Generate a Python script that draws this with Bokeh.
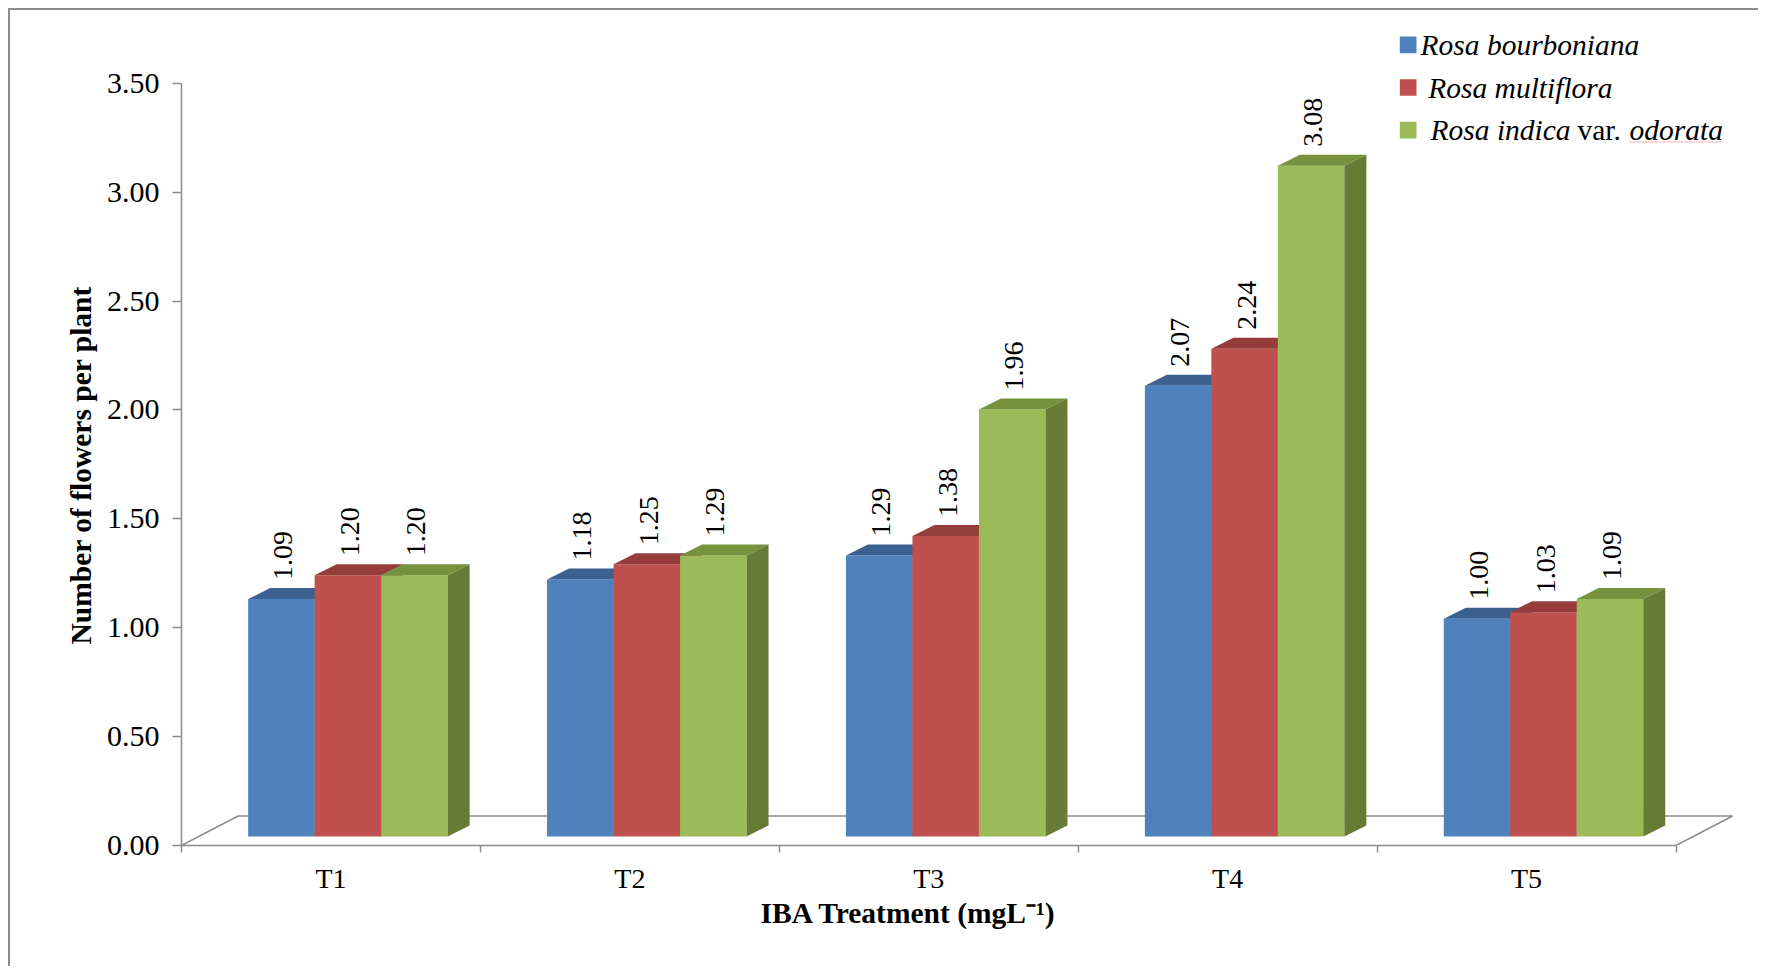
import math
from bokeh.plotting import figure
from bokeh.models import Range1d, FixedTicker, ColumnDataSource, Title
from bokeh.core.properties import value
from bokeh.embed import file_html
from bokeh.resources import INLINE

# ---------------- data ----------------
categories = ["T1", "T2", "T3", "T4", "T5"]
series_names = ["Rosa bourboniana", "Rosa multiflora", "Rosa indica var. odorata"]
rosa_bourboniana = [1.09, 1.18, 1.29, 2.07, 1.00]
rosa_multiflora = [1.20, 1.25, 1.38, 2.24, 1.03]
rosa_indica_odorata = [1.20, 1.29, 1.96, 3.08, 1.09]
y_ticks = [0.0, 0.5, 1.0, 1.5, 2.0, 2.5, 3.0, 3.5]
y_tick_labels = ["0.00", "0.50", "1.00", "1.50", "2.00", "2.50", "3.00", "3.50"]
x_title = "IBA Treatment (mgL\u207b\u00b9)"
y_title = "Number of flowers per plant"

# ---------------- style / geometry ----------------
FONT = "Liberation Serif"
front_colors = ["#4F81BD", "#C0504D", "#9BBB59"]
top_colors = ["#3C6190", "#943D3B", "#77923F"]
side_colors = ["#375B86", "#8A3836", "#657B36"]
GRAY = "#8c8c8c"

PX_X = 298.9          # pixels per category unit
PX_Y = 217.8          # pixels per value unit
FIG_W, FIG_H = 1750, 958
MB_LEFT, MB_BOTTOM = 171, 123
FRAME_LEFT_PAGE = 10 + MB_LEFT                 # page x of x=0
FRAME_BOTTOM_PAGE = 10 + FIG_H - MB_BOTTOM     # page y of y=0

BAR_W = 66.5 / PX_X
GROUP_OFF = 0.223
BASE = 9 / PX_Y
DX = 22 / PX_X
DY = 11 / PX_Y
FLOOR_DX = 56.6 / PX_X
FLOOR_DY = 29.5 / PX_Y


def px_x(px):
    return (px - FRAME_LEFT_PAGE) / PX_X


def px_y(py):
    return (FRAME_BOTTOM_PAGE - py) / PX_Y


p = figure(width=FIG_W, height=FIG_H, output_backend="svg", toolbar_location=None,
           x_range=Range1d(0, (FIG_W - MB_LEFT) / PX_X),
           y_range=Range1d(0, (FIG_H - MB_BOTTOM) / PX_Y),
           min_border_left=MB_LEFT, min_border_right=0, min_border_top=0,
           min_border_bottom=MB_BOTTOM)
p.styles = {"margin-left": "8px", "margin-top": "8px",
            "border-left": "2px solid #8c8c8c", "border-top": "2px solid #8c8c8c"}
p.outline_line_color = None
p.xgrid.visible = False
p.ygrid.visible = False
p.background_fill_color = "white"
p.border_fill_color = "white"

n = len(categories)

# floor (3-D base)
p.line([0, FLOOR_DX, n + FLOOR_DX, n], [0, FLOOR_DY, FLOOR_DY, 0],
       line_color=GRAY, line_width=1.5)

# bars
series = [rosa_bourboniana, rosa_multiflora, rosa_indica_odorata]
for j, vals in enumerate(series):
    lefts = [i + GROUP_OFF + j * BAR_W for i in range(n)]
    rights = [l + BAR_W for l in lefts]
    tops = [BASE + v for v in vals]
    bottoms = [BASE] * n
    p.quad(left=lefts, right=rights, bottom=bottoms, top=tops,
           fill_color=front_colors[j], line_color=None)
    txs = [[l, l + DX, r + DX, r] for l, r in zip(lefts, rights)]
    tys = [[t, t + DY, t + DY, t] for t in tops]
    p.patches(txs, tys, fill_color=top_colors[j], line_color=None)
    sxs = [[r, r + DX, r + DX, r] for r in rights]
    sys_ = [[b, b + DY, t + DY, t] for b, t in zip(bottoms, tops)]
    p.patches(sxs, sys_, fill_color=side_colors[j], line_color=None)
    src = ColumnDataSource(dict(
        x=[l + BAR_W / 2 + 2 / PX_X for l in lefts],
        y=[t + DY + 8 / PX_Y for t in tops],
        t=["%.2f" % v for v in vals]))
    p.text(x="x", y="y", text="t", source=src, angle=math.pi / 2,
           text_align="left", text_baseline="middle",
           text_font=value(FONT), text_font_size="28px", text_color="black")

# axes
xa = p.xaxis[0]
xa.ticker = FixedTicker(ticks=[i + 0.5 for i in range(n)], minor_ticks=list(range(n + 1)))
xa.major_label_overrides = {i + 0.5: c for i, c in enumerate(categories)}
xa.bounds = (0, n)
xa.major_tick_out = 0
xa.major_tick_in = 0
xa.minor_tick_out = 7
xa.minor_tick_in = 0
xa.axis_line_color = GRAY
xa.axis_line_width = 1.5
xa.minor_tick_line_color = GRAY
xa.minor_tick_line_width = 1.5
xa.major_label_text_font = FONT
xa.major_label_text_font_size = "28px"
xa.major_label_text_color = "black"
xa.major_label_standoff = 10

ya = p.yaxis[0]
ya.ticker = FixedTicker(ticks=y_ticks)
ya.major_label_overrides = {t: s for t, s in zip(y_ticks, y_tick_labels)}
ya.bounds = (0, 3.5)
ya.major_tick_out = 9
ya.major_tick_in = 0
ya.minor_tick_out = 0
ya.minor_tick_in = 0
ya.axis_line_color = GRAY
ya.axis_line_width = 1.5
ya.major_tick_line_color = GRAY
ya.major_tick_line_width = 1.5
ya.major_label_text_font = FONT
ya.major_label_text_font_size = "30px"
ya.major_label_text_color = "black"
ya.major_label_standoff = 13

# axis titles as side titles (so they can be placed along the axis extent)
p.add_layout(Title(text=x_title, align="left", offset=760 - FRAME_LEFT_PAGE,
                   standoff=-3, text_font=FONT, text_font_size="29.5px",
                   text_font_style="bold", text_color="black"), "below")
p.add_layout(Title(text=y_title, align="left", offset=201,
                   standoff=14, text_font=FONT, text_font_size="29.5px",
                   text_font_style="bold", text_color="black"), "left")

# legend (manual, to allow mixed italic / roman text)
leg_sq_left, leg_sq_right = 1399.3, 1416.0
leg_centers = [44.3, 87.0, 129.7]
leg_half = 8.35
p.quad(left=[px_x(leg_sq_left)] * 3, right=[px_x(leg_sq_right)] * 3,
       bottom=[px_y(c + leg_half) for c in leg_centers],
       top=[px_y(c - leg_half) for c in leg_centers],
       fill_color=front_colors, line_color=None)
leg_parts = [
    (1420.0, leg_centers[0], "Rosa bourboniana", "italic"),
    (1427.7, leg_centers[1], "Rosa multiflora", "italic"),
    (1430.0, leg_centers[2], "Rosa indica", "italic"),
    (1577.0, leg_centers[2], "var.", "normal"),
    (1629.0, leg_centers[2], "odorata", "italic"),
]
for x0, yc, txt, style in leg_parts:
    p.text(x=[px_x(x0)], y=[px_y(yc)], text=[txt], text_align="left",
           text_baseline="middle", text_font=value(FONT),
           text_font_size="29.5px", text_font_style=style, text_color="black")
# spell-check underline under "odorata"
p.line([px_x(1629), px_x(1722)], [px_y(141.5), px_y(141.5)],
       line_color="#f0b4b4", line_width=1)

open("out.html", "w").write(file_html(p, INLINE))
